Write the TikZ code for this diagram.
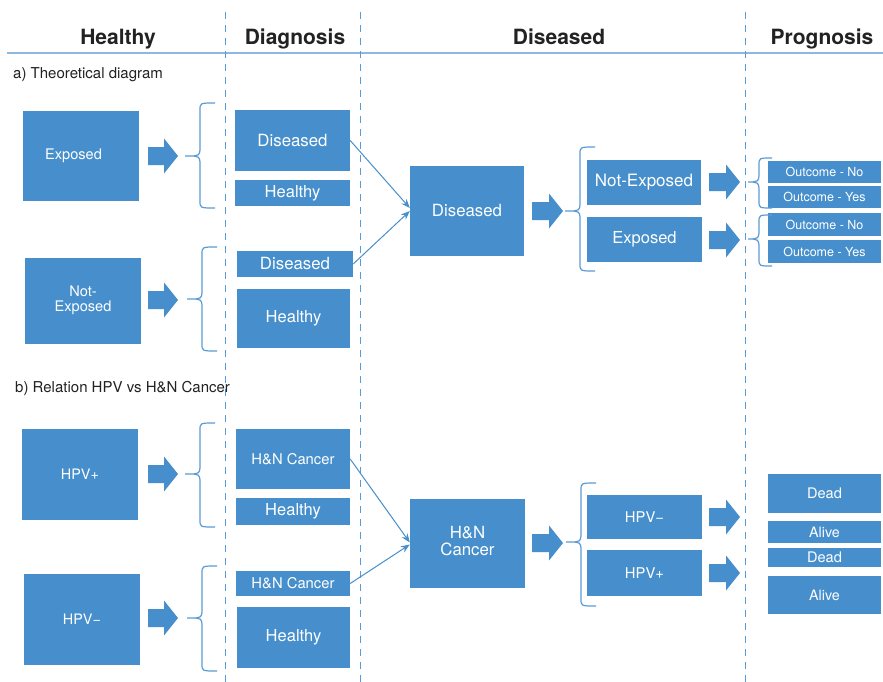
\documentclass[tikz,border=0pt]{standalone}
\usepackage{fontspec}
\setmainfont{TeX Gyre Heros}
\usetikzlibrary{arrows.meta}

\definecolor{boxblue}{RGB}{70,143,204}
\definecolor{rulecol}{RGB}{141,184,224}
\definecolor{dashcol}{RGB}{91,155,213}
\definecolor{headcol}{RGB}{34,34,34}

\tikzset{
  box/.style={fill=boxblue, text=white, inner sep=0pt, draw=none},
  fs/.style={font=\fontsize{#1}{#1}\selectfont\setlength\baselineskip{1.22\baselineskip}},
  head/.style={font=\bfseries\fontsize{21}{21}\selectfont, text=headcol, inner sep=0pt, anchor=base},
  seclabel/.style={fs=15, text=headcol, inner sep=0pt, anchor=base west},
  divider/.style={draw=dashcol, line width=1pt, dash pattern=on 7pt off 6pt},
  conn/.style={draw=boxblue, line width=1pt, -{Stealth[length=9pt,width=7pt,inset=3pt]}},
  bracecol/.style={draw=dashcol, line width=1.2pt}
}

% filled box from its corners: name, x1, y1, x2, y2, font size, text
\newcommand\boxnode[7]{%
  \pgfmathsetmacro\bnw{#4-#2}\pgfmathsetmacro\bnh{#5-#3}%
  \pgfmathsetmacro\bncx{(#2+#4)/2}\pgfmathsetmacro\bncy{(#3+#5)/2}%
  \node[box, fs=#6, minimum width=\bnw pt, minimum height=\bnh pt] (#1) at (\bncx,\bncy) {#7};}

% two centred lines
\newcommand\twolines[2]{\begin{tabular}{@{}c@{}}#1\\#2\end{tabular}}

% block arrow: left x, tip x, centre y
\newcommand\blockarrow[3]{%
  \pgfmathsetmacro\bahx{#2-14}%
  \fill[boxblue] (#1,{#3-9}) -- (\bahx,{#3-9}) -- (\bahx,{#3-17.5}) -- (#2,#3)
    -- (\bahx,{#3+17.5}) -- (\bahx,{#3+9}) -- (#1,{#3+9}) -- cycle;}

% curly brace: tip x, spine x, end x, top y, mid y, bottom y
\newcommand\curlybrace[6]{%
  \draw[bracecol] (#3,#4) .. controls (#2,#4) .. (#2,{#4+7}) -- (#2,{#5-6})
    .. controls (#2,{#5-1}) and ({#2-3},#5) .. ({#2-6},#5) -- (#1,#5);
  \draw[bracecol] (#3,#6) .. controls (#2,#6) .. (#2,{#6-7}) -- (#2,{#5+6})
    .. controls (#2,{#5+1}) and ({#2-3},#5) .. ({#2-6},#5);}

\begin{document}
\begin{tikzpicture}[x=1pt,y=-1pt]
\useasboundingbox[fill=white] (0,0) rectangle (883,682);

% column headers and dividers
\draw[draw=rulecol, line width=2pt] (7,53) -- (883,53);
\foreach \dx in {225,360,745} \draw[divider] (\dx,12) -- (\dx,682);
\node[head] (hHealthy) at (118,45) {Healthy};
\node[head] (hDiag) at (295,45) {Diagnosis};
\node[head] (hDis) at (559,45) {Diseased};
\node[head] (hProg) at (822,45) {Prognosis};

% ---------- a) theoretical diagram ----------
\node[seclabel] (secA) at (13,79) {a) Theoretical diagram};

\boxnode{exp}{23}{111}{139}{201}{14.6}{\hspace*{-15pt}Exposed}
\boxnode{nexp}{25}{258}{141}{344}{14.6}{\twolines{Not-}{Exposed}}

\boxnode{dis1}{235}{110}{350}{171}{16.8}{Diseased}
\boxnode{hea1}{235}{180}{350}{206}{16.5}{Healthy}
\boxnode{dis2}{237}{251}{353}{277}{16.8}{Diseased}
\boxnode{hea2}{237}{289}{350}{348}{16.5}{Healthy}

\boxnode{disBig}{410}{166}{524}{256}{16.8}{Diseased}

\boxnode{nexpR}{587}{160}{701}{205}{17}{Not-Exposed}
\boxnode{expR}{587}{217}{702}{262}{16.5}{Exposed}

\boxnode{on1}{768}{161}{881}{183}{12.5}{Outcome - No}
\boxnode{oy1}{768}{186}{881}{208}{12.5}{Outcome - Yes}
\boxnode{on2}{768}{213}{881}{236}{12.5}{Outcome - No}
\boxnode{oy2}{768}{240}{881}{263}{12.5}{Outcome - Yes}

\blockarrow{148}{178}{156}
\blockarrow{148}{178}{300}
\blockarrow{532}{563}{211}
\blockarrow{709}{740}{182}
\blockarrow{709}{740}{240}

\curlybrace{185}{200}{215}{103}{156}{208}
\curlybrace{187}{202}{217}{247}{299}{351}
\curlybrace{565}{580}{595}{147}{211}{271}
\curlybrace{748}{759}{772}{158}{182}{208}
\curlybrace{748}{759}{772}{215}{239}{266}

\draw[conn] (dis1.east) -- ([yshift=3pt]disBig.west);
\draw[conn] (dis2.east) -- (disBig.west);

% ---------- b) HPV vs H&N cancer ----------
\node[seclabel] (secB) at (15,392) {b) Relation HPV vs H\&N Cancer};

\boxnode{hpvp}{22}{429}{138}{520}{14.4}{HPV+}
\boxnode{hpvm}{24}{574}{140}{665}{14.4}{HPV−}

\boxnode{hnc1}{236}{429}{350}{489}{14.8}{H\&N Cancer}
\boxnode{hh1}{236}{498}{350}{525}{16.5}{Healthy}
\boxnode{hnc2}{236}{571}{350}{596}{14.8}{H\&N Cancer}
\boxnode{hh2}{237}{607}{350}{668}{16.5}{Healthy}

\boxnode{hncBig}{410}{499}{525}{588}{16.8}{\twolines{H\&N}{Cancer}}

\boxnode{hpvmR}{587}{495}{702}{539}{14.8}{HPV−}
\boxnode{hpvpR}{587}{550}{702}{596}{14.8}{HPV+}

\boxnode{dead1}{768}{474}{881}{513}{14.6}{Dead}
\boxnode{alive1}{768}{521}{881}{543}{14.3}{Alive}
\boxnode{dead2}{768}{548}{881}{567}{14.6}{Dead}
\boxnode{alive2}{768}{576}{881}{614}{14.3}{Alive}

\blockarrow{148}{178}{474}
\blockarrow{148}{178}{618}
\blockarrow{532}{563}{543}
\blockarrow{709}{740}{517}
\blockarrow{709}{740}{573}

\curlybrace{185}{200}{215}{423}{474}{527}
\curlybrace{187}{202}{217}{566}{618}{671}
\curlybrace{566}{581}{596}{483}{542}{606}

\draw[conn] (hnc1.east) -- ([yshift=1pt]hncBig.west);
\draw[conn] (hnc2.east) -- ([yshift=-1pt]hncBig.west);
\end{tikzpicture}
\end{document}
